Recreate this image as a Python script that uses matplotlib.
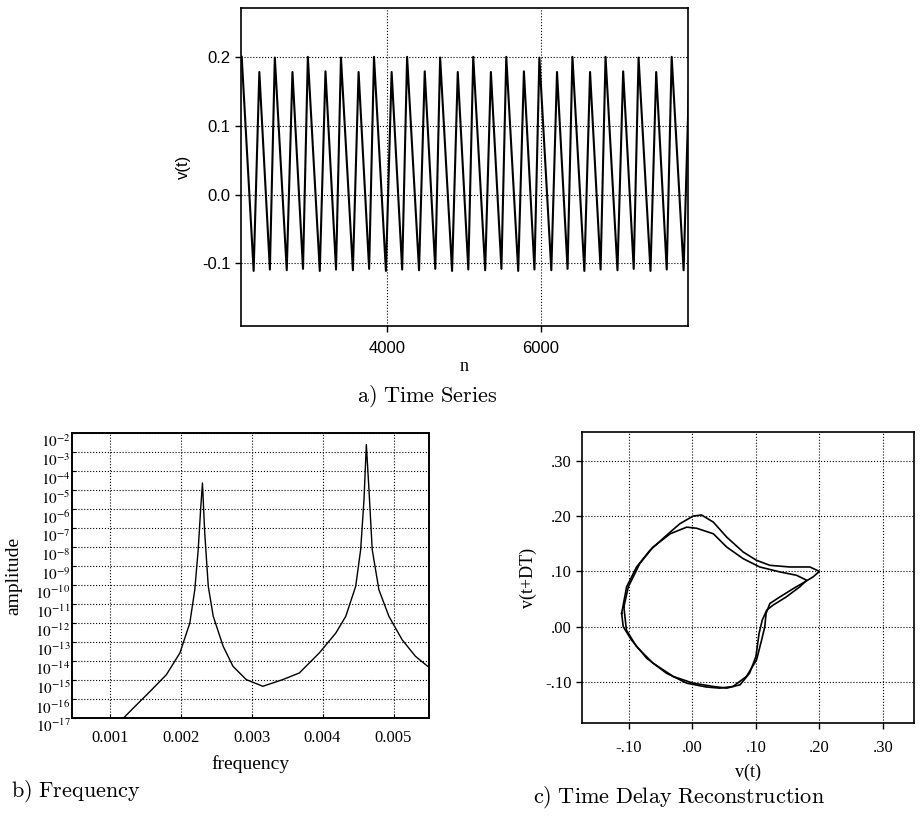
import numpy as np
import matplotlib
matplotlib.use("Agg")
import matplotlib.pyplot as plt

plt.rcParams['font.family'] = ['Liberation Serif', 'DejaVu Serif']
plt.rcParams['mathtext.fontset'] = 'stix'

# ----------------------------
# a) time series: vertices of the sawtooth (n, v)
# ----------------------------
tall_n = [2113, 2543, 2972, 3402, 3831, 4261, 4690, 5120, 5549, 5979, 6408, 6838, 7267, 7697]
tall_v = [0.200, 0.199, 0.200, 0.199, 0.200, 0.200, 0.199, 0.200, 0.200, 0.199, 0.200, 0.200, 0.199, 0.200]
trough_a_n = [2268, 2698, 3127, 3557, 3986, 4416, 4845, 5275, 5704, 6134, 6563, 6993, 7422, 7852]
trough_a_v = [-0.111, -0.110, -0.111, -0.110, -0.111, -0.110, -0.111, -0.110, -0.111, -0.110, -0.111, -0.110, -0.111, -0.110]
short_n = [2342, 2772, 3201, 3631, 4060, 4490, 4919, 5349, 5778, 6208, 6637, 7067, 7496, 7926]
short_v = [0.178, 0.178, 0.179, 0.178, 0.178, 0.179, 0.178, 0.178, 0.179, 0.178, 0.178, 0.179, 0.178, 0.178]
trough_b_n = [2479, 2909, 3338, 3768, 4197, 4627, 5056, 5486, 5915, 6345, 6774, 7204, 7633]
trough_b_v = [-0.109, -0.108, -0.109, -0.108, -0.109, -0.108, -0.109, -0.108, -0.109, -0.108, -0.109, -0.108, -0.109]

# ----------------------------
# b) spectrum (frequency, log10 amplitude)
# ----------------------------
freq = [0.001196, 0.001336, 0.00157, 0.0018, 0.00199, 0.00213, 0.0022, 0.002248, 0.002285, 0.002308,
        0.00234, 0.00239, 0.00246, 0.0026, 0.002738, 0.002925, 0.003159, 0.003439, 0.003673, 0.003953,
        0.004187, 0.004327, 0.004467, 0.004537, 0.004584, 0.004617, 0.004654, 0.0047, 0.004794, 0.004935,
        0.005121, 0.005308, 0.005481]
amp_log10 = [-17.0, -16.47, -15.6, -14.72, -13.58, -12.0, -10.25, -8.14, -5.86, -4.63,
             -7.26, -10.07, -11.65, -13.23, -14.28, -14.98, -15.33, -14.98, -14.63, -13.58,
             -12.53, -11.65, -10.07, -8.14, -5.51, -2.61, -4.98, -8.14, -10.25, -11.65,
             -12.88, -13.75, -14.28]
amp_exps = list(range(2, 18))

# ----------------------------
# c) time delay reconstruction, two loops
# ----------------------------
outer_x = [-0.1115, -0.1037, -0.088, -0.067, -0.041, -0.020, 0.001, 0.0144, 0.033, 0.054, 0.080, 0.101,
           0.122, 0.153, 0.185, 0.200, 0.190, 0.177, 0.159, 0.138, 0.122, 0.116, 0.114, 0.109, 0.101,
           0.085, 0.064, 0.043, 0.022, -0.009, -0.041, -0.072, -0.096, -0.109, -0.1115]
outer_y = [0.024, 0.072, 0.108, 0.138, 0.165, 0.186, 0.200, 0.202, 0.189, 0.162, 0.135, 0.120,
           0.111, 0.108, 0.108, 0.100, 0.090, 0.081, 0.069, 0.054, 0.042, 0.024, 0.000, -0.024, -0.060,
           -0.090, -0.108, -0.111, -0.109, -0.102, -0.084, -0.057, -0.024, 0.000, 0.024]
inner_x = [-0.108, -0.101, -0.083, -0.062, -0.035, -0.009, 0.0066, 0.033, 0.054, 0.080, 0.106, 0.138,
           0.164, 0.180, 0.169, 0.148, 0.127, 0.117, 0.110, 0.105, 0.100, 0.090, 0.075, 0.054, 0.033,
           0.001, -0.030, -0.062, -0.088, -0.104, -0.108]
inner_y = [0.036, 0.072, 0.114, 0.144, 0.168, 0.180, 0.178, 0.168, 0.144, 0.123, 0.108, 0.099,
           0.093, 0.084, 0.072, 0.054, 0.039, 0.030, 0.012, -0.012, -0.054, -0.084, -0.105, -0.111, -0.108,
           -0.102, -0.090, -0.066, -0.036, -0.006, 0.036]

grid_kw = dict(color='black', linestyle=':', linewidth=0.8)

fig = plt.figure(figsize=(9.22, 8.16), dpi=100)

# ---- a) Time Series
ax1 = fig.add_axes([0.2614, 0.6005, 0.4848, 0.3897])
pts = sorted(zip(tall_n + trough_a_n + short_n + trough_b_n,
                 tall_v + trough_a_v + short_v + trough_b_v))
n_all = [p[0] for p in pts]
v_all = [p[1] for p in pts]
ax1.plot(n_all, v_all, color='black', linewidth=1.5)
ax1.set_xlim(2104, 7909)
ax1.set_ylim(-0.191, 0.271)
ax1.set_xticks([4000, 6000])
ax1.set_yticks([0.2, 0.1, 0.0, -0.1])
ax1.set_yticklabels(['0.2', '0.1', '0.0', '-0.1'], family='Liberation Sans', fontsize=12)
ax1.set_xticklabels(['4000', '6000'], family='Liberation Sans', fontsize=12)
ax1.tick_params(length=4, width=1)
ax1.tick_params(axis='x', pad=7)
ax1.grid(True, **grid_kw)
ax1.set_ylabel('v(t)', family='Liberation Sans', fontsize=12, labelpad=8)
ax1.set_xlabel('n', fontsize=13, labelpad=1)
for s in ax1.spines.values():
    s.set_linewidth(1.2)
fig.text(0.463, 0.514, r'$\mathrm{a)\ Time\ Series}$', ha='center', va='center',
         fontsize=16, math_fontfamily='cm')

# ---- b) Frequency
ax2 = fig.add_axes([0.0781, 0.1201, 0.3872, 0.3493])
ax2.semilogy(freq, np.power(10.0, amp_log10), color='black', linewidth=1.0)
ax2.set_xlim(0.00047, 0.0055)
ax2.set_ylim(1e-17, 1e-2)
ax2.set_xticks([0.001, 0.002, 0.003, 0.004, 0.005])
ax2.set_xticklabels(['0.001', '0.002', '0.003', '0.004', '0.005'], fontsize=12)
ax2.set_yticks([10.0 ** (-k) for k in amp_exps])
ax2.set_yticklabels([rf'$10^{{-{k}}}$' for k in amp_exps], fontsize=11)
ax2.yaxis.set_minor_locator(matplotlib.ticker.NullLocator())
for lbl in ax2.get_yticklabels():
    lbl.set_va('top')
ax2.tick_params(axis='y', direction='in', length=3, pad=1)
ax2.tick_params(axis='x', direction='in', length=3, pad=9)
ax2.grid(True, **grid_kw)
ax2.set_xlabel('frequency', fontsize=14, labelpad=6)
ax2.set_ylabel('amplitude', fontsize=14)
ax2.yaxis.set_label_coords(-0.14, 0.5)
for s in ax2.spines.values():
    s.set_linewidth(1.4)
fig.text(0.012, 0.031, r'$\mathrm{b)\ Frequency}$', ha='left', va='center',
         fontsize=16, math_fontfamily='cm')

# ---- c) Time Delay Reconstruction
ax3 = fig.add_axes([0.6312, 0.114, 0.3601, 0.3566])
ax3.plot(outer_x, outer_y, color='black', linewidth=1.2)
ax3.plot(inner_x, inner_y, color='black', linewidth=1.2)
ax3.set_xlim(-0.174, 0.349)
ax3.set_ylim(-0.174, 0.352)
tv = [-0.1, 0.0, 0.1, 0.2, 0.3]
tl = ['-.10', '.00', '.10', '.20', '.30']
ax3.set_xticks(tv)
ax3.set_xticklabels(tl, fontsize=12)
ax3.set_yticks(tv)
ax3.set_yticklabels(tl, fontsize=12)
ax3.tick_params(length=4, width=1)
ax3.tick_params(axis='x', pad=8)
ax3.grid(True, **grid_kw)
ax3.set_xlabel('v(t)', fontsize=13, labelpad=6)
ax3.set_ylabel('v(t+DT)', fontsize=13, labelpad=6)
for s in ax3.spines.values():
    s.set_linewidth(1.2)
fig.text(0.736, 0.023, r'$\mathrm{c)\ Time\ Delay\ Reconstruction}$', ha='center', va='center',
         fontsize=16, math_fontfamily='cm')

fig.savefig('out.png', dpi=100)
